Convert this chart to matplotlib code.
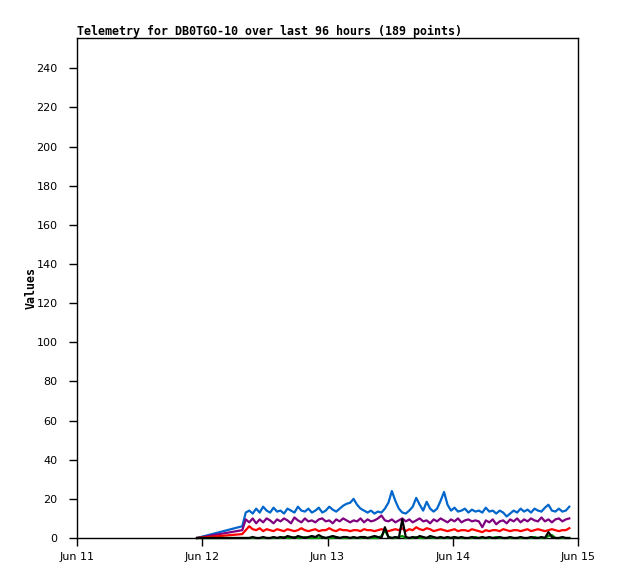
import matplotlib
matplotlib.use("Agg")
import matplotlib.pyplot as plt
import matplotlib.dates as mdates
import pandas as pd

# telemetry channels, one reading every 40 min from Jun 12 07:40 (first reading Jun 11 23:00)
first_time = pd.Timestamp("2024-06-11 23:00")
times = [first_time] + list(pd.date_range("2024-06-12 07:40", periods=95, freq="40min"))

blue = [0, 6, 13,
        14, 12.5, 15, 13, 16, 14, 13, 15.5, 13.5,
        14, 12.5, 15, 14, 13, 16, 14, 13.5, 15, 13,
        14, 15.5, 13, 14, 16, 14.5, 13.5, 15, 16.5, 17.5, 18,
        20,
        17, 15, 14, 13, 14, 12.5, 13.5, 13, 15, 18, 24,
        19, 15, 13, 12.5, 14, 16,
        20.5,
        17, 14, 18.5, 15, 13.5, 15, 19,
        23.5,
        17, 14, 15.5, 13.5, 14, 15, 13, 14.5, 13.5, 14, 13,
        15.5,
        13.5, 14, 12.5, 14, 13, 11, 12.5, 14, 13, 15,
        13.5, 14.5, 13, 15, 14, 13.5, 15.5, 17, 14, 13.5, 15, 13.5, 14, 16]

purple = [0, 4, 9.5,
          8, 10, 7.5, 9.5, 8, 10, 9, 7.5, 9.5,
          8.5, 10, 9, 7.5, 10.5, 9, 8, 10, 8.5, 9,
          8, 9.5, 10, 8.5, 9, 7.5, 9.5, 8.5, 10, 9, 8,
          9, 8.5, 10, 8, 9.5, 8.5, 9, 10, 11.5, 9, 8.5, 9.5,
          8, 9, 10, 8.5, 9.5, 8, 9, 10, 8.5, 9, 7.5, 9.5, 8.5, 10,
          9, 8, 9.5, 8.5, 10, 8, 9, 9.5, 8.5, 9, 8.5, 5.5,
          9, 8, 9.5, 7, 8.5, 9, 7.5, 9.5, 8.5, 10, 8,
          9.5, 8.5, 10, 9, 8.5, 10.5, 8.5, 9.5, 8, 9.5, 10, 8.5, 9.5, 10]

red = [0, 2, 4,
       6, 4.5, 4, 5, 3.5, 4.5, 4, 3.5, 4.5,
       4, 3.5, 4.5, 4, 3.5, 4, 5, 4, 3.5, 4,
       4.5, 3.5, 4, 4, 5, 4, 3.5, 4.5, 4, 4, 3.5,
       4, 4, 3.5, 4.5, 4, 4, 3.5, 4, 4.5, 4, 3.5, 4,
       4.5, 4, 5, 3.5, 4.5, 4, 5.5, 4.5, 4, 5, 4.5, 3.5, 4, 4.5,
       4, 3.5, 4, 4.5, 3.5, 4, 4, 3.5, 4.5, 4, 3.5, 3,
       4, 3.5, 4, 4, 3.5, 4.5, 4, 3.5, 4, 4, 3.5,
       4, 4.5, 3.5, 4, 4.5, 4, 3.5, 4, 4.5, 4, 3.5, 4, 4, 5]

black = [0, 0,
         0, 0, 0.5, 0, 0, 0.5, 0, 0, 0.5, 0,
         0.5, 0, 1, 0.5, 0, 1, 0.5, 0, 0.5, 1,
         0.5, 1.5, 0.5, 0, 0.5, 1, 0.5, 0, 0.5, 0.5, 0,
         0.5, 0, 0.5, 0.5, 0, 0.5, 1, 0.5, 0, 5.5, 0.5, 0,
         0.5, 0, 9.5, 0.5, 0, 0.5, 0, 1, 0.5, 0, 1, 0.5, 0, 0.5,
         0, 0.5, 0, 0.5, 0, 0.5, 0, 0, 0.5, 0, 0, 0.5,
         0, 0.5, 0, 0, 0.5, 0, 0, 0.5, 0, 0, 0.5,
         0, 0, 0.5, 0, 0, 0.5, 0, 3, 0.5, 0, 0, 0.5, 0, 0]

green = [0, 0,
         0, 0, 0, 0, 0, 0, 0, 0, 0, 0,
         0, 0.5, 0, 0, 0.5, 0, 0, 0.5, 0, 0,
         0, 0, 0.5, 0, 0, 0, 0.5, 0, 0, 0, 0,
         0, 0, 0, 0.5, 0, 0, 0, 0, 1, 4, 0.5, 0,
         0, 0.5, 1, 0, 0, 0, 0.5, 0, 0, 0, 0.5, 0, 0, 0,
         0, 0, 0, 0.5, 0, 0, 0, 0, 0, 0.5, 0, 0,
         0, 0, 0, 0.5, 0, 0, 0, 0, 0, 0, 0,
         0, 0, 0, 0.5, 0, 0, 0, 1, 1.5, 0, 0, 0, 0, 0]

series = [(blue, '#0066cc'), (purple, '#800080'), (red, '#ff0000'),
          (green, '#009900'), (black, '#000000')]

fig = plt.figure(figsize=(6.18, 5.79), dpi=100)
ax = fig.add_axes([77/618, 41/579, 501/618, 500/579])

for vals, col in series:
    ax.plot(times, vals, color=col, linewidth=1.6, clip_on=False, zorder=3)

ax.set_xlim(pd.Timestamp("2024-06-11"), pd.Timestamp("2024-06-15"))
ax.set_ylim(0, 255.5)
ax.set_yticks(range(0, 241, 20))
ax.xaxis.set_major_locator(mdates.DayLocator())
ax.xaxis.set_major_formatter(mdates.DateFormatter("%b %d"))

ax.tick_params(direction='out', length=6, width=1, labelsize=8)
ax.tick_params(axis='x', pad=4)
ax.tick_params(axis='y', pad=8)
for sp in ax.spines.values():
    sp.set_linewidth(1)

ax.set_title("Telemetry for DB0TGO-10 over last 96 hours (189 points)",
             loc='left', fontsize=8.4, fontfamily='DejaVu Sans Mono',
             fontweight='bold', pad=2)
ax.set_ylabel("Values", fontsize=8.4, fontfamily='DejaVu Sans Mono',
              fontweight='bold')
ax.yaxis.set_label_coords(-0.078, 0.5)

fig.savefig("out.png", dpi=100)
